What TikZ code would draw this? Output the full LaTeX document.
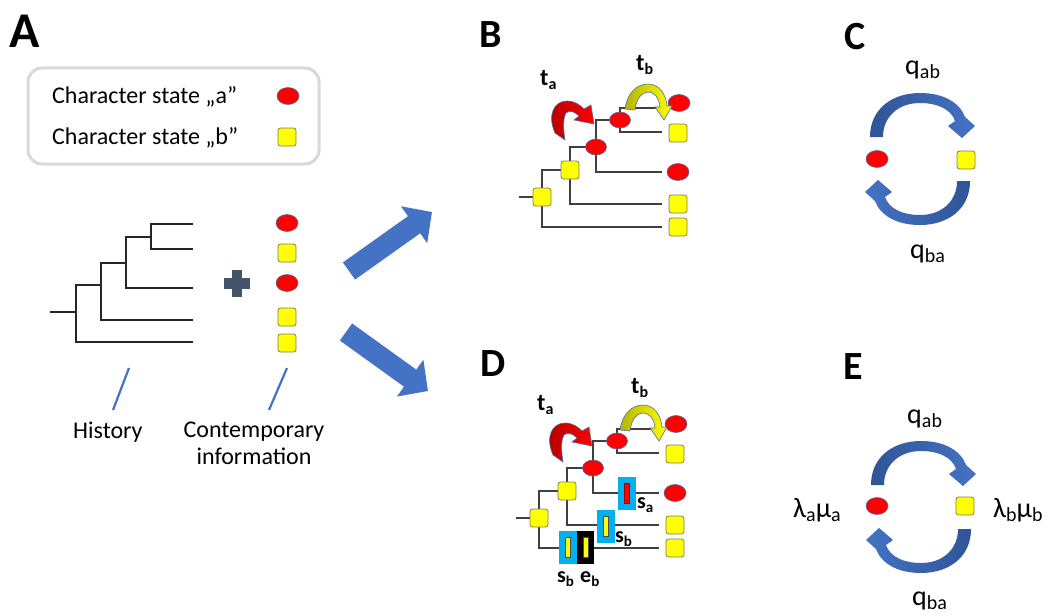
\documentclass[tikz,border=0pt]{standalone}
\usepackage{fontspec}
\setmainfont{Carlito}
\usetikzlibrary{shapes.geometric,arrows.meta}
\definecolor{pblue}{HTML}{4472C4}
\definecolor{pdark}{HTML}{2F5597}
\definecolor{plusc}{HTML}{44546A}
\definecolor{legbox}{HTML}{D9D9D9}
\definecolor{yel}{HTML}{FFFF00}
\definecolor{yolive}{HTML}{B4B400}
\definecolor{nedge}{HTML}{4F6FA8}
\definecolor{sqedge}{HTML}{7F7F5F}
\definecolor{treec}{HTML}{3F3F3F}
\definecolor{cyanb}{HTML}{00B0F0}
\definecolor{pdred}{HTML}{B00000}
\pgfdeclarelayer{bg}
\pgfsetlayers{bg,main}
\newcommand\qlab[2]{{\fontsize{28}{30}\selectfont #1\raisebox{-4pt}{\fontsize{20}{20}\selectfont #2}}}
\newcommand\blab[2]{{\bfseries\fontsize{24}{26}\selectfont #1\raisebox{-4pt}{\fontsize{16}{16}\selectfont #2}}}
\newcommand\slab[2]{{\bfseries\fontsize{22}{24}\selectfont #1\raisebox{-4pt}{\fontsize{15}{15}\selectfont #2}}}
\newcommand\phylotree[1]{%
  \node[yelst] (#1R) at (542,-197) {};
  \node[yelst] (#1N2) at (570,-170) {};
  \node[redsm] (#1N3) at (596,-147) {};
  \node[redsm] (#1N4) at (620,-120) {};
  \node[redst] (#1L1) at (679,-103) {};
  \node[yelst] (#1L2) at (678,-133) {};
  \node[redst] (#1L3) at (678,-172) {};
  \node[yelst] (#1L4) at (678,-204) {};
  \node[yelst] (#1L5) at (678,-227) {};
  \coordinate (#1S) at (519,-197);
  \coordinate (#1E1) at (662,-108);
  \coordinate (#1E2) at (662,-132);
  \coordinate (#1E3) at (662,-172);
  \coordinate (#1E4) at (662,-204);
  \coordinate (#1E5) at (662,-227);
  \begin{pgfonlayer}{bg}
    \draw[treeline] (#1S) -- (#1R.center);
    \draw[treeline] (#1R.center) |- (#1N2.center);
    \draw[treeline] (#1R.center) |- (#1E5);
    \draw[treeline] (#1N2.center) |- (#1N3.center);
    \draw[treeline] (#1N2.center) |- (#1E4);
    \draw[treeline] (#1N3.center) |- (#1N4.center);
    \draw[treeline] (#1N3.center) |- (#1E3);
    \draw[treeline] (#1N4.center) |- (#1E1);
    \draw[treeline] (#1N4.center) |- (#1E2);
  \end{pgfonlayer}}
\newcommand\redcurve[1]{\path[redarrow,#1] (555,-133) .. controls (547,-115) and (554,-101) .. (567,-101) .. controls (575,-101) and (580,-105) .. (584,-109) -- (591,-105) -- (594,-124) -- (574,-120) -- (579,-116) .. controls (574,-111) and (569,-110) .. (566,-113) .. controls (563,-118) and (563,-128) .. (565,-140) -- cycle;}
\newcommand\yelcurve[1]{\path[yelarrow,#1] (625,-109) .. controls (627,-93) and (637,-84) .. (648,-84) .. controls (659,-84) and (666,-94) .. (667,-106) -- (672,-106) -- (664,-120) -- (655,-107) -- (660,-107) .. controls (659,-97) and (654,-92) .. (648,-92) .. controls (642,-92) and (636,-99) .. (635,-110) -- cycle;}
\newcommand\fatarc[1]{\path[#1] (-50,22) .. controls (-50,50) and (-28,66) .. (0,66) .. controls (24,66) and (40,56) .. (45,42) -- (55,33) -- (42,21) -- (28,33) -- (35,38) .. controls (31,50) and (17,56) .. (0,56) .. controls (-22,56) and (-37,42) .. (-37,22) -- cycle;}
\begin{document}
\begin{tikzpicture}[x=1pt,y=1pt,
  redst/.style={ellipse, fill=red, draw=nedge, line width=0.6pt, minimum width=22pt, minimum height=17pt, inner sep=0pt},
  redsm/.style={redst, minimum width=21pt, minimum height=16pt},
  yelst/.style={rectangle, rounded corners=2.5pt, fill=yel, draw=sqedge, line width=0.8pt, minimum width=18pt, minimum height=18pt, inner sep=0pt},
  treeline/.style={draw=treec, line width=1.3pt},
  treeA/.style={draw=black!85, line width=1.3pt},
  lbl/.style={inner sep=0pt, anchor=base west},
  txt/.style={inner sep=0pt, font=\fontsize{24}{28}\selectfont},
  panel/.style={inner sep=0pt, font=\bfseries\fontsize{40}{40}\selectfont},
  bigarrow/.style={draw=pblue, line width=21pt, -{Triangle[width=44pt,length=22pt]}},
  pointer/.style={draw=pblue, line width=2.2pt},
  redarrow/.style={left color=pdred, right color=red, draw=nedge, line width=0.6pt},
  yelarrow/.style={left color=yolive, right color=yel, draw=nedge, line width=0.6pt},
  cyanbox/.style={rectangle, fill=cyanb, minimum width=17.5pt, minimum height=33pt, inner sep=0pt},
  blackbox/.style={cyanbox, fill=black},
  redbar/.style={rectangle, fill=red, draw=pdred, line width=0.5pt, minimum width=5pt, minimum height=20pt, inner sep=0pt},
  yelbar/.style={redbar, fill=yel, draw=black!70}]
\useasboundingbox (0,0) rectangle (1056,-615);
\begin{pgfonlayer}{bg}
\fill[white] (0,0) rectangle (1056,-615);
\end{pgfonlayer}

% ---------- Panel A ----------
\node[panel, font=\bfseries\fontsize{50}{50}\selectfont] (labA) at (25,-31) {A};
\node[draw=legbox, line width=3pt, rounded corners=14pt, minimum width=291pt, minimum height=96pt, inner sep=0pt] (legend) at (173.5,-116) {};
\node[lbl, font=\fontsize{24}{28}\selectfont] (leg1) at (52,-103) {Character state „a”};
\node[redst] (legA) at (288,-96) {};
\node[lbl, font=\fontsize{24}{28}\selectfont] (leg2) at (52,-144) {Character state „b”};
\node[yelst] (legB) at (287,-137) {};

% history tree
\coordinate (hs) at (50,-312);
\coordinate (hr) at (76,-312);
\coordinate (hn1) at (101,-285);
\coordinate (hn2) at (126,-263);
\coordinate (hn3) at (151,-237);
\coordinate (hl1) at (193,-224);
\coordinate (hl2) at (193,-249);
\coordinate (hl3) at (193,-288);
\coordinate (hl4) at (193,-320);
\coordinate (hl5) at (193,-342);
\draw[treeA] (hs) -- (hr);
\draw[treeA] (hr) |- (hn1);
\draw[treeA] (hr) |- (hl5);
\draw[treeA] (hn1) |- (hn2);
\draw[treeA] (hn1) |- (hl4);
\draw[treeA] (hn2) |- (hn3);
\draw[treeA] (hn2) |- (hl3);
\draw[treeA] (hn3) |- (hl1);
\draw[treeA] (hn3) |- (hl2);

% plus
\fill[plusc] (224,-278) rectangle (250,-289);
\fill[plusc] (232,-270) rectangle (242,-297);

% contemporary states
\node[redst] (s1) at (287,-223) {};
\node[yelst] (s2) at (287,-253) {};
\node[redst] (s3) at (287,-283) {};
\node[yelst] (s4) at (287,-317) {};
\node[yelst] (s5) at (287,-343) {};

% pointer lines and captions
\coordinate (p1a) at (129,-368);
\coordinate (p1b) at (113,-410);
\coordinate (p2a) at (287,-368);
\coordinate (p2b) at (269,-410);
\draw[pointer] (p1a) -- (p1b);
\draw[pointer] (p2a) -- (p2b);
\node[txt, anchor=base west] (hist) at (73,-438) {History};
\node[txt, anchor=base] (cont1) at (254,-437) {Contemporary};
\node[txt, anchor=base] (cont2) at (254,-464) {information};

% big arrows
\coordinate (ua) at (349,-271);
\coordinate (ub) at (432,-212);
\coordinate (da) at (346,-332);
\coordinate (db) at (428,-391);
\draw[bigarrow] (ua) -- (ub);
\draw[bigarrow] (da) -- (db);

% ---------- Panel B ----------
\node[panel] (labB) at (491,-35) {B};
\phylotree{b}
\redcurve{}
\yelcurve{}
\node[lbl] (taB) at (540,-86) {\blab{t}{a}};
\node[lbl] (tbB) at (636,-71) {\blab{t}{b}};

% ---------- Panel D ----------
\node[panel] (labD) at (493,-364) {D};
\begin{scope}[shift={(-3,-321)}]
\phylotree{d}
\end{scope}
\redcurve{shift={(-2,-322)}}
\yelcurve{shift={(-5,-321)}}
\node[lbl] (taD) at (537,-410) {\blab{t}{a}};
\node[lbl] (tbD) at (631,-393) {\blab{t}{b}};
\node[cyanbox] (saBox) at (627,-493) {};
\node[redbar] (saBar) at (627,-493) {};
\node[cyanbox] (sbBox) at (606,-526) {};
\node[yelbar] (sbBar) at (606,-526) {};
\node[cyanbox] (sb2Box) at (568,-547) {};
\node[yelbar] (sb2Bar) at (568,-547) {};
\node[blackbox] (ebBox) at (585.5,-547) {};
\node[yelbar] (ebBar) at (585.5,-547) {};
\node[lbl] (sa) at (637,-508) {\slab{s}{a}};
\node[lbl] (sb1) at (615,-542) {\slab{s}{b}};
\node[lbl] (sb2) at (557,-582) {\slab{s}{b}};
\node[lbl] (eb) at (580,-582) {\slab{e}{b}};

% ---------- Panel C ----------
\node[panel] (labC) at (855,-37) {C};
\fatarc{shift={(920,-159)}, left color=pdark, right color=pblue}
\fatarc{shift={(920,-159)}, rotate=180, left color=pblue, right color=pdark}
\node[redst] (cA) at (877,-159) {};
\node[yelst] (cB) at (966,-160) {};
\node[lbl] (cqab) at (905,-75) {\qlab{q}{ab}};
\node[lbl] (cqba) at (910,-258) {\qlab{q}{ba}};

% ---------- Panel E ----------
\node[panel] (labE) at (853,-367) {E};
\fatarc{shift={(921,-507)}, left color=pdark, right color=pblue}
\fatarc{shift={(921,-507)}, rotate=180, left color=pblue, right color=pdark}
\node[redst] (eA) at (877,-506) {};
\node[yelst] (eB) at (965,-506) {};
\node[lbl] (eqab) at (907,-423) {\qlab{q}{ab}};
\node[lbl] (eqba) at (912,-605) {\qlab{q}{ba}};
\node[lbl] (lama) at (793,-517) {\qlab{λ}{a}\qlab{μ}{a}};
\node[lbl] (lamb) at (993,-517) {\qlab{λ}{b}\qlab{μ}{b}};
\end{tikzpicture}
\end{document}
